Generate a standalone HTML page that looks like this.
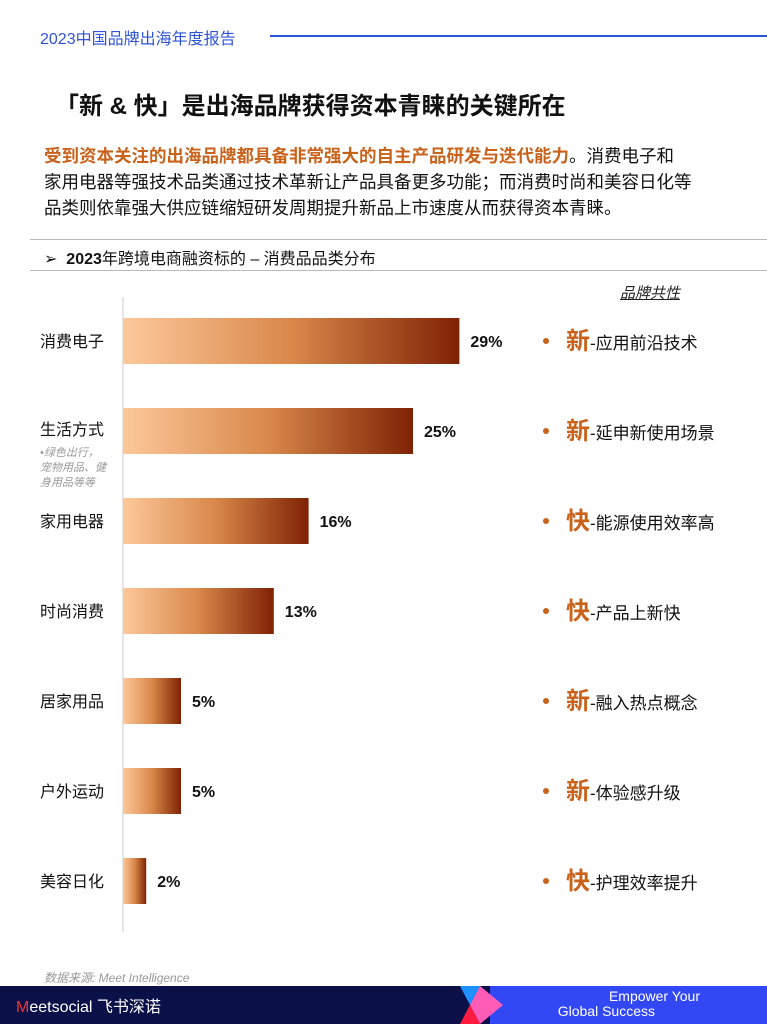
<!DOCTYPE html>
<html><head><meta charset="utf-8">
<style>
body{margin:0;width:767px;height:1024px;position:relative;background:#fff;font-family:"Liberation Sans","Noto Sans CJK SC",sans-serif;overflow:hidden}
.abs{position:absolute}
</style></head><body>
<div class="abs" style="left:40px;top:25px;font-size:16px;color:#2f54d6">2023中国品牌出海年度报告</div>
<div class="abs" style="left:270px;top:35px;width:497px;height:1.5px;background:#2f54d6"></div>
<div class="abs" style="left:55px;top:86px;font-size:24px;font-weight:bold;color:#111">「新 &amp; 快」是出海品牌获得资本青睐的关键所在</div>
<div class="abs" style="left:44px;top:143px;width:720px;font-size:17.5px;line-height:26px;color:#111;white-space:nowrap"><b style="color:#c9621a">受到资本关注的出海品牌都具备非常强大的自主产品研发与迭代能力</b>。消费电子和<br>家用电器等强技术品类通过技术革新让产品具备更多功能；而消费时尚和美容日化等<br>品类则依靠强大供应链缩短研发周期提升新品上市速度从而获得资本青睐。</div>
<div class="abs" style="left:30px;top:239px;width:737px;height:1px;background:#bbb"></div>
<div class="abs" style="left:44px;top:245px;font-size:16px;color:#111">➢&nbsp; <b>2023</b>年跨境电商融资标的 – 消费品品类分布</div>
<div class="abs" style="left:30px;top:270px;width:737px;height:1px;background:#bbb"></div>
<div class="abs" style="left:620px;top:282px;font-size:15px;font-style:italic;text-decoration:underline;color:#222">品牌共性</div>
<svg class="abs" style="left:0;top:0" width="767" height="1024">
<defs><linearGradient id="g" x1="0" x2="1" y1="0" y2="0"><stop offset="0" stop-color="#fcc89a"/><stop offset="0.5" stop-color="#d9884a"/><stop offset="1" stop-color="#7f2204"/></linearGradient></defs>
<line x1="123" y1="297" x2="123" y2="932" stroke="#ddd" stroke-width="1.5"/>
<g id="bars"></g>
</svg>
<div class="abs" style="left:40px;top:446px;font-size:11px;line-height:15px;font-style:italic;color:#999">•绿色出行，<br>宠物用品、健<br>身用品等等</div>
<div class="abs" style="left:44px;top:969px;font-size:12px;font-style:italic;color:#999">数据来源: Meet Intelligence</div>
<div class="abs" style="left:0;top:986px;width:767px;height:38px;background:#0b1148"></div>
<div class="abs" style="left:490px;top:986px;width:277px;height:38px;background:#3348f5"></div>
<svg class="abs" style="left:455px;top:986px" width="50" height="38"><polygon points="5,0 25,0 15,19" fill="#1e90ff"/><polygon points="25,0 48,19 25,38 15,19" fill="#ff5cb8"/><polygon points="15,19 25,38 5,38" fill="#ff1b3d"/></svg>
<div class="abs" style="left:16px;top:993px;font-size:16px;color:#fff"><span style="color:#e33">M</span>eetsocial 飞书深诺</div>
<div class="abs" style="left:550px;top:989px;font-size:14px;line-height:15px;color:#fff;text-align:right;width:150px">Empower Your<br><span style="margin-right:45px">Global Success</span></div>
<script>
const categories=["消费电子","生活方式","家用电器","时尚消费","居家用品","户外运动","美容日化"];
const values=[29,25,16,13,5,5,2];
const traitChars=["新","新","快","快","新","新","快"];
const traitTexts=["-应用前沿技术","-延申新使用场景","-能源使用效率高","-产品上新快","-融入热点概念","-体验感升级","-护理效率提升"];
const x0=123,scale=11.6,rowTop=341,rowStep=90,barH=46;
const xs=v=>x0+v*scale, ys=i=>rowTop+i*rowStep;
const ns="http://www.w3.org/2000/svg",g=document.getElementById('bars');
categories.forEach((c,i)=>{
 const y=ys(i);
 const r=document.createElementNS(ns,'rect');
 r.setAttribute('x',x0);r.setAttribute('y',y-barH/2);r.setAttribute('width',xs(values[i])-x0);r.setAttribute('height',barH);r.setAttribute('fill','url(#g)');
 
 
 g.appendChild(r);
 const t=document.createElementNS(ns,'text');
 t.setAttribute('x',xs(values[i])+11);t.setAttribute('y',y+6);t.setAttribute('font-size','16');t.setAttribute('font-weight','bold');t.setAttribute('fill','#111');t.textContent=values[i]+'%';
 
 
 g.appendChild(t);
 const l=document.createElementNS(ns,'text');
 l.setAttribute('x',40);l.setAttribute('y',(i==1?y-2:y)+6);l.setAttribute('font-size','16');l.setAttribute('fill','#111');l.textContent=c;
 
 
 g.appendChild(l);
 const d=document.createElementNS(ns,'circle');
 d.setAttribute('cx',546);d.setAttribute('cy',y);d.setAttribute('r',3);d.setAttribute('fill','#c9621a');
 
 
 g.appendChild(d);
 const tt=document.createElementNS(ns,'text');
 tt.setAttribute('x',566);tt.setAttribute('y',y+8);tt.setAttribute('fill','#111');tt.setAttribute('font-size','17');
 tt.innerHTML='<tspan font-size="24" font-weight="bold" fill="#c9621a">'+traitChars[i]+'</tspan>'+traitTexts[i];
 
 
 g.appendChild(tt);
});
</script>
</body></html>
